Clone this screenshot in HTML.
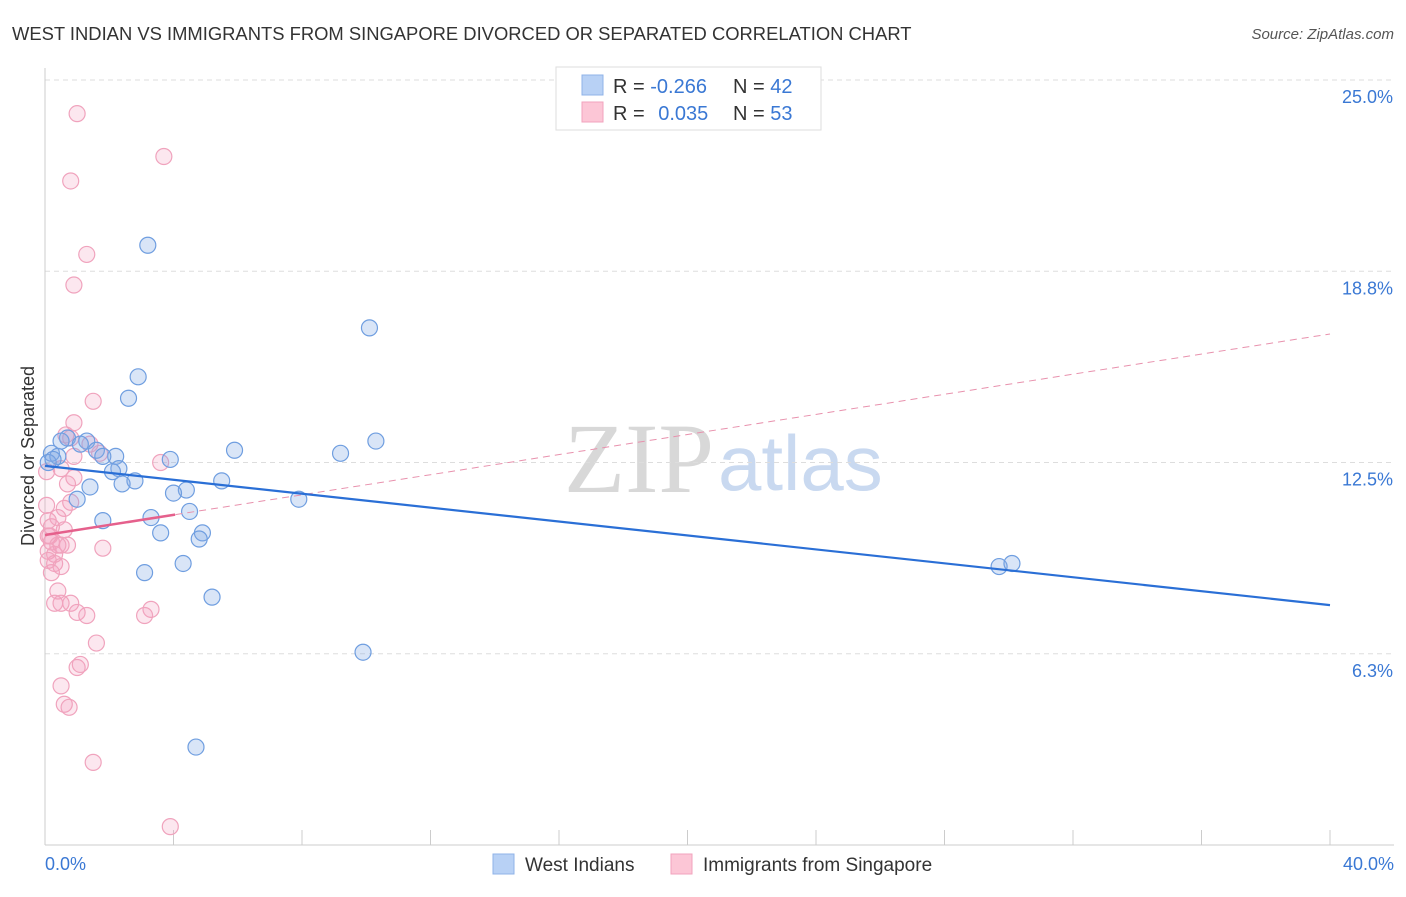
<!DOCTYPE html>
<html><head><meta charset="utf-8"><style>
body{margin:0;background:#fff;font-family:"Liberation Sans",sans-serif;}
svg text{font-family:"Liberation Sans",sans-serif;}
</style></head><body>
<svg id="c" width="1406" height="892" xmlns="http://www.w3.org/2000/svg">
<text x="12" y="40" font-size="18.4" fill="#333">WEST INDIAN VS IMMIGRANTS FROM SINGAPORE DIVORCED OR SEPARATED CORRELATION CHART</text>
<text x="1394" y="39" font-size="15" fill="#555" font-style="italic" text-anchor="end">Source: ZipAtlas.com</text>
<text x="714" y="492" font-size="100" fill="#d8d8d8" text-anchor="end" style="font-family:'Liberation Serif',serif">ZIP</text>
<text x="718" y="490" font-size="78" fill="#c9d9f0">atlas</text>
<g id="grid"></g>
<g id="axes"></g>
<g id="marks"></g>
<text transform="translate(34,456) rotate(-90)" font-size="18" fill="#333" text-anchor="middle">Divorced or Separated</text>
<rect x="556" y="67" width="265" height="63" fill="#fff" stroke="#ddd"/>
<rect x="582" y="75" width="21" height="20" fill="#b8d1f5" stroke="#8fb3e8"/>
<rect x="582" y="102" width="21" height="20" fill="#fcc6d6" stroke="#f2a3bd"/>
<text x="613" y="93" font-size="20" fill="#333">R = <tspan fill="#3a78d4">-0.266</tspan></text>
<text x="733" y="93" font-size="20" fill="#333">N = <tspan fill="#3a78d4">42</tspan></text>
<text x="613" y="120" font-size="20" fill="#333">R = <tspan fill="#3a78d4" dx="8">0.035</tspan></text>
<text x="733" y="120" font-size="20" fill="#333">N = <tspan fill="#3a78d4">53</tspan></text>
<rect x="493" y="854" width="21" height="20" fill="#b8d1f5" stroke="#8fb3e8"/>
<text x="525" y="871" font-size="19" fill="#333">West Indians</text>
<rect x="671" y="854" width="21" height="20" fill="#fcc6d6" stroke="#f2a3bd"/>
<text x="703" y="871" font-size="19" fill="#333">Immigrants from Singapore</text>
</svg>
<script>
const yTicks=[6.25,12.5,18.75,25];
const yTickLabels=["6.3%","12.5%","18.8%","25.0%"];
const xTicks=[0,4,8,12,16,20,24,28,32,36,40];
const xTickLabels=["0.0%","40.0%"];
const blueX=[3.2,10.1,2.9,2.6,10.3,9.2,5.9,3.9,0.7,1.3,1.1,1.6,2.2,1.8,0.2,0.4,0.1,2.3,2.1,2.8,2.4,5.5,1.4,1.0,4.4,4.0,7.9,4.5,3.3,1.8,3.6,4.9,4.8,4.3,3.1,29.7,30.1,5.2,9.9,4.7,0.5,0.25];
const blueY=[19.6,16.9,15.3,14.6,13.2,12.8,12.9,12.6,13.3,13.2,13.1,12.9,12.7,12.7,12.8,12.7,12.5,12.3,12.2,11.9,11.8,11.9,11.7,11.3,11.6,11.5,11.3,10.9,10.7,10.6,10.2,10.2,10.0,9.2,8.9,9.1,9.2,8.1,6.3,3.2,13.2,12.6];
const pinkX=[1.0,3.7,0.8,1.3,0.9,1.5,0.9,0.8,3.6,0.9,0.5,0.05,0.7,0.8,0.6,0.05,0.6,0.1,0.1,0.2,0.5,0.1,0.7,1.8,0.3,0.3,0.5,0.2,0.4,0.3,0.8,0.5,1.0,1.3,3.3,3.1,1.6,1.0,1.1,0.5,0.6,0.75,1.5,3.9,1.7,0.65,1.4,0.2,0.4,0.15,0.4,0.1,0.9];
const pinkY=[23.9,22.5,21.7,19.3,18.3,14.5,13.8,13.3,12.5,12.0,12.3,12.2,11.8,11.2,11.0,11.1,10.3,10.6,10.1,9.9,9.8,9.6,9.8,9.7,9.5,9.2,9.1,8.9,8.3,7.9,7.9,7.9,7.6,7.5,7.7,7.5,6.6,5.8,5.9,5.2,4.6,4.5,2.7,0.6,12.8,13.4,13.1,10.4,10.7,10.1,9.8,9.3,12.7];
const blueTrend=[12.39,7.84];
const pinkTrend=[10.13,16.7];
const pinkSolidEnd=4.05;
const X=v=>45+v/40*1285, Y=v=>845-v*30.6;
const NS="http://www.w3.org/2000/svg";
function mk(p,t,a){const e=document.createElementNS(NS,t);for(const k in a)e.setAttribute(k,a[k]);document.getElementById(p).appendChild(e);return e;}
yTicks.forEach((t,i)=>{
 const l=mk('grid','line',{x1:45,x2:1394,y1:Y(t),y2:Y(t),stroke:'#ddd','stroke-dasharray':'5,4'});
 
 
 const tx=mk('grid','text',{x:1393,y:Y(t)+23,'font-size':18,fill:'#3a78d4','text-anchor':'end'});
 tx.textContent=yTickLabels[i];
 
 
});
const yax=mk('axes','line',{x1:45,x2:45,y1:68,y2:845,stroke:'#ccc'});


const xax=mk('axes','line',{x1:45,x2:1394,y1:845,y2:845,stroke:'#ccc'});


xTicks.forEach(t=>{
 const l=mk('axes','line',{x1:X(t),x2:X(t),y1:830,y2:845,stroke:'#ccc'});
 
 
});
[[0,'start',45],[40,'end',1394]].forEach((d,i)=>{
 const tx=mk('axes','text',{x:d[2],y:870,'font-size':18,fill:'#3a78d4','text-anchor':d[1]});
 tx.textContent=xTickLabels[i];
 
 
});
pinkX.forEach((x,i)=>{
 const c=mk('marks','circle',{cx:X(x),cy:Y(pinkY[i]),r:8,fill:'rgba(245,160,190,0.25)',stroke:'#f0a3bd','stroke-width':1.2});
 
 
});
blueX.forEach((x,i)=>{
 const c=mk('marks','circle',{cx:X(x),cy:Y(blueY[i]),r:8,fill:'rgba(130,170,230,0.3)',stroke:'#6f9ee0','stroke-width':1.2});
 
 
});
const pd=mk('marks','line',{x1:X(0),y1:Y(pinkTrend[0]),x2:X(40),y2:Y(pinkTrend[1]),stroke:'#e891ad','stroke-width':1,'stroke-dasharray':'7,5'});


const ps=mk('marks','line',{x1:X(0),y1:Y(pinkTrend[0]),x2:X(pinkSolidEnd),y2:Y(pinkTrend[0]+(pinkTrend[1]-pinkTrend[0])*pinkSolidEnd/40),stroke:'#e5608c','stroke-width':2.5});


const bl=mk('marks','line',{x1:X(0),y1:Y(blueTrend[0]),x2:X(40),y2:Y(blueTrend[1]),stroke:'#2a6fd6','stroke-width':2.2});


</script>
</body></html>
